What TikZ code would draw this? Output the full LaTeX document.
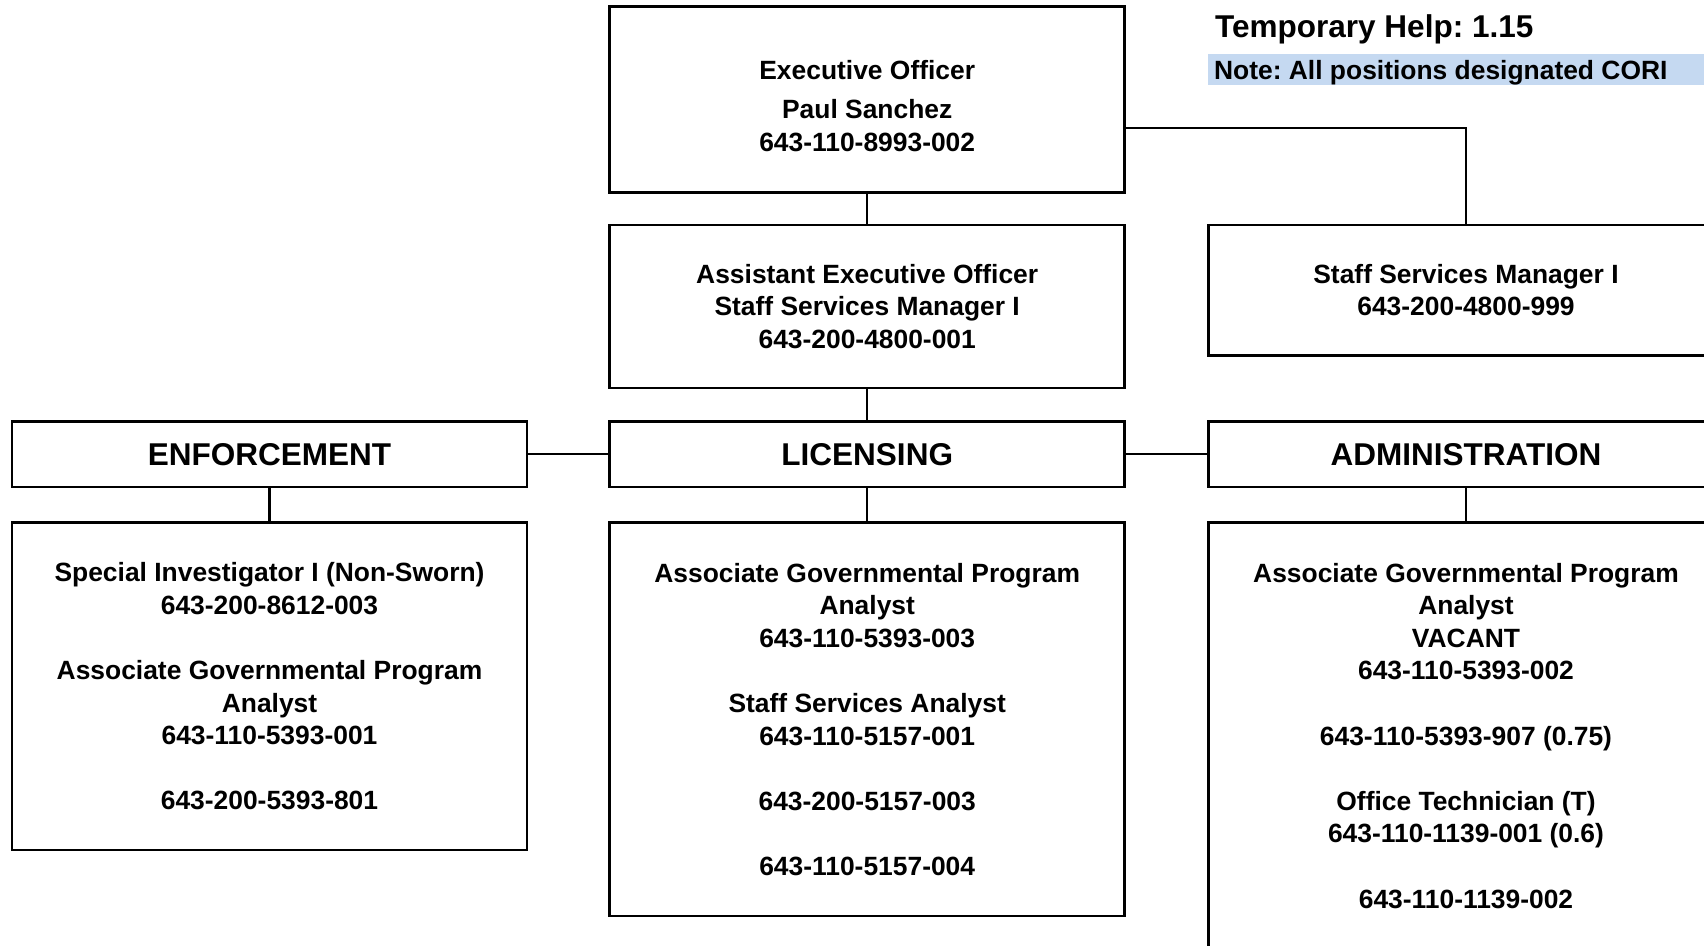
\documentclass[tikz,border=0pt]{standalone}
\usepackage{fontspec}
\setmainfont{Liberation Sans}
\definecolor{noteblue}{RGB}{197,217,241}
\frenchspacing
\begin{document}
\begin{tikzpicture}[x=1pt,y=-1pt,
  box/.style={draw=black, line width=2.4pt, minimum width=474pt, inner sep=0pt, align=center,
    font=\bfseries\fontsize{24.3}{30}\selectfont},
  head/.style={box, minimum height=60pt, font=\bfseries\fontsize{29}{34}\selectfont},
  conn/.style={draw=black, line width=2.1pt},
  txt/.style={inner sep=0pt, align=center, font=\bfseries\fontsize{24.3}{30}\selectfont}]
\useasboundingbox (0,0) rectangle (1568,870);
\clip (0,0) rectangle (1568,870);
% top-right notes
\node[anchor=base west, inner sep=0pt, font=\bfseries\fontsize{29}{34}\selectfont] (temp) at (1118,34.4) {Temporary Help: 1.15};
\fill[noteblue] (1112,50) rectangle (1580,78);
\node[anchor=base west, inner sep=0pt, font=\bfseries\fontsize{24.3}{30}\selectfont] (note) at (1117,72.7) {Note: All positions designated CORI};
% boxes
\node[box, minimum height=171pt] (exec) at (798,91.5) {};
\node[txt] (exect) at (798,97.5) {Executive Officer\\[6pt]Paul Sanchez\\643-110-8993-002};
\node[box, minimum height=150pt] (aeo) at (798,282) {Assistant Executive Officer\\Staff Services Manager I\\643-200-4800-001};
\node[box, minimum height=120pt] (ssm) at (1349,267) {Staff Services Manager I\\643-200-4800-999};
\node[head] (enf) at (248,418) {ENFORCEMENT};
\node[head] (lic) at (798,418) {LICENSING};
\node[head] (adm) at (1349,418) {ADMINISTRATION};
\node[box, minimum height=301pt] (enfd) at (248,631.5) {Special Investigator I (Non-Sworn)\\643-200-8612-003\\[30pt]Associate Governmental Program\\Analyst\\643-110-5393-001\\[30pt]643-200-5393-801};
\node[box, minimum height=362pt] (licd) at (798,662) {Associate Governmental Program\\Analyst\\643-110-5393-003\\[30pt]Staff Services Analyst\\643-110-5157-001\\[30pt]643-200-5157-003\\[30pt]643-110-5157-004};
\node[box, minimum height=392pt] (admd) at (1349,677) {Associate Governmental Program\\Analyst\\VACANT\\643-110-5393-002\\[30pt]643-110-5393-907 (0.75)\\[30pt]Office Technician (T)\\643-110-1139-001 (0.6)\\[30pt]643-110-1139-002};
% connectors
\coordinate (j) at (1349,118);
\draw[conn] (exec.south) -- (aeo.north);
\draw[conn] (exec.east |- j) -- (j) -- (ssm.north);
\draw[conn] (aeo.south) -- (lic.north);
\draw[conn] (enf.east) -- (lic.west);
\draw[conn] (lic.east) -- (adm.west);
\draw[conn] (enf.south) -- (enfd.north);
\draw[conn] (lic.south) -- (licd.north);
\draw[conn] (adm.south) -- (admd.north);
\end{tikzpicture}
\end{document}
